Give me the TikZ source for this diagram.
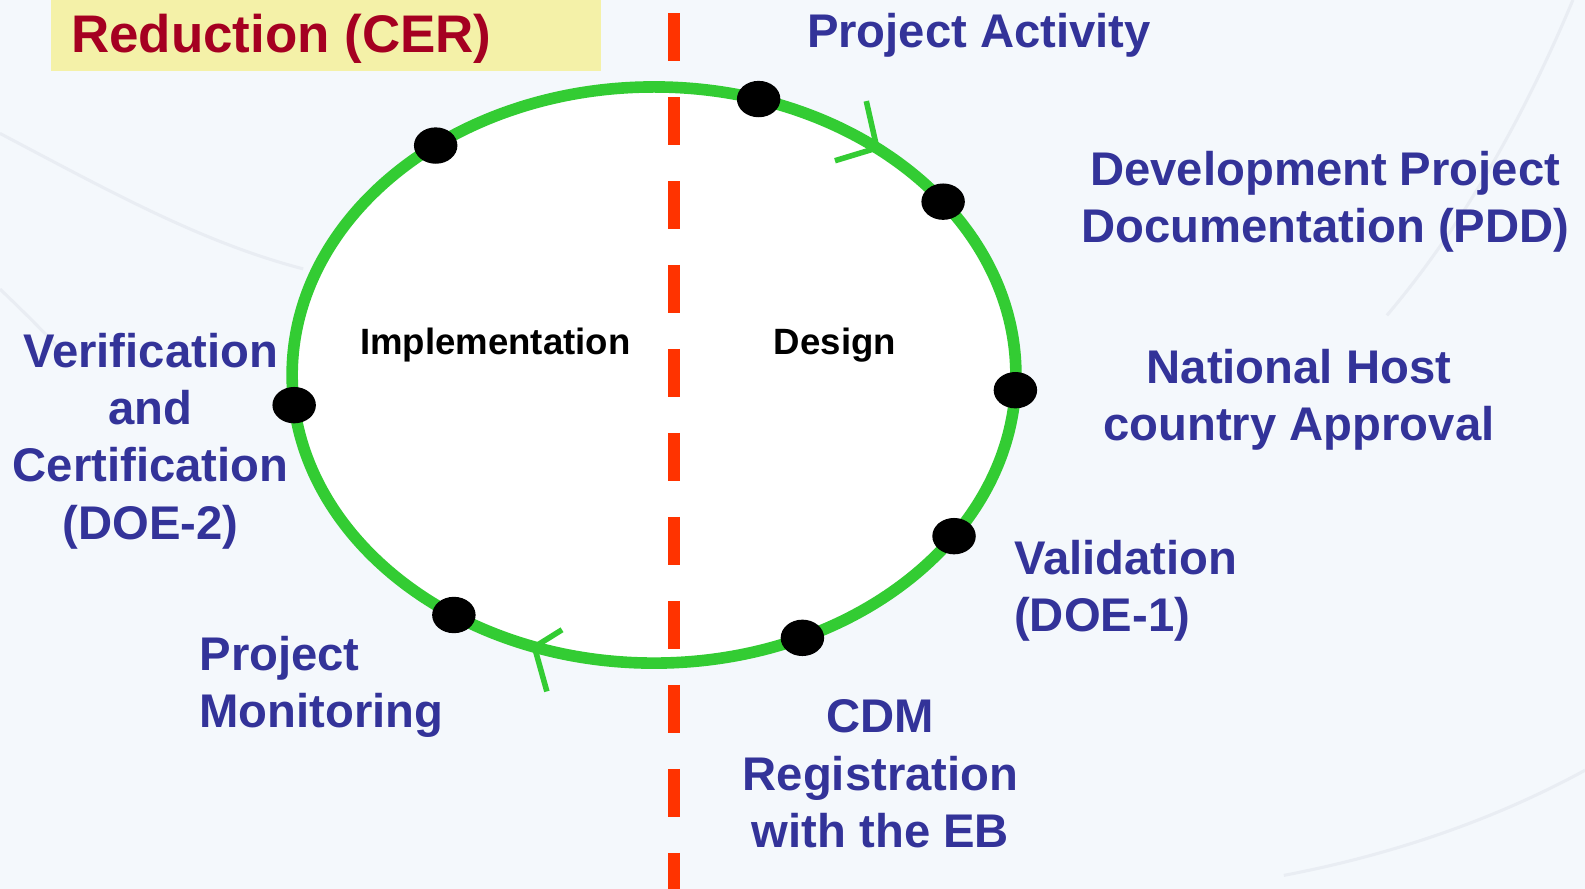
\documentclass[tikz,border=0pt]{standalone}
\usepackage{fontspec}
\setmainfont{Liberation Sans}
\usepackage{tikz}
\usetikzlibrary{shapes.geometric}

\definecolor{bgblue}{HTML}{F4F8FC}
\definecolor{ringgrey}{HTML}{E9EDF3}
\definecolor{titleyellow}{HTML}{F4F1A8}
\definecolor{titlered}{HTML}{A50021}
\definecolor{cdmblue}{HTML}{333399}
\definecolor{cdmgreen}{HTML}{33CC33}
\definecolor{cdmred}{HTML}{FF3300}

\begin{document}
\begin{tikzpicture}[x=0.02cm,y=-0.02cm,
	dot/.style={ellipse,fill=black,minimum width=0.86cm,minimum height=0.72cm,inner sep=0},
	lbl/.style={text=cdmblue,font=\fontsize{26.6}{32.3}\selectfont\bfseries,align=center,inner sep=0},
	phase/.style={font=\fontsize{20.6}{24}\selectfont\bfseries,inner sep=0}]
	\fill [bgblue] (0,0) rectangle (1568,879);
	\useasboundingbox (0,0) rectangle (1568,879);
	% faint rings of the slide background
	\draw [ringgrey, line width=0.06cm] (0,132) .. controls (110,190) and (200,240) .. (300,266);
	\draw [ringgrey, line width=0.06cm] (0,286) .. controls (20,305) and (40,325) .. (62,348);
	\draw [ringgrey, line width=0.06cm] (1556,0) .. controls (1510,110) and (1450,220) .. (1372,312);
	\draw [ringgrey, line width=0.06cm] (1568,762) .. controls (1480,810) and (1380,845) .. (1270,866);

	% title box
	\fill [titleyellow] (50,0) rectangle (595,70);
	\node[anchor=base west, text=titlered, font=\fontsize{29.8}{36}\selectfont\bfseries, inner sep=0] (title) at (70,52) {Reduction (CER)};

	% the project cycle
	\coordinate (centre) at (647,371);
	\fill [white] (centre) ellipse [x radius=358, y radius=285];
	\draw [cdmred, line width=0.24cm, dash pattern=on 0.95cm off 0.712cm] (667,12.9) -- (667,879);
	\draw [cdmgreen, line width=0.23cm] (centre) ellipse [x radius=358, y radius=285];

	\coordinate (tipA) at (867.5,146.4);
	\coordinate (tipB) at (528.7,640);
	% direction marks
	\draw [cdmgreen, line width=0.11cm] (826,159) -- (tipA) -- (857,100);
	\draw [cdmgreen, line width=0.11cm] (556,623) -- (tipB) -- (541,684);

	\node[dot] (dCER) at (431,144) {};
	\node[dot] (dActivity) at (750.5,98) {};
	\node[dot] (dPDD) at (933,199.5) {};
	\node[dot] (dApproval) at (1004.5,386) {};
	\node[dot] (dValidation) at (943.8,530.4) {};
	\node[dot] (dRegistration) at (793.8,631) {};
	\node[dot] (dMonitoring) at (449,608.4) {};
	\node[dot] (dVerification) at (291,400.8) {};

	\node[phase, anchor=base] (impl) at (490,351) {Implementation};
	\node[phase, anchor=base] (design) at (826,351) {Design};

	\node[lbl, anchor=base west] (activity) at (798,47) {Project Activity};
	\node[lbl, anchor=north] (pdd) at (1311,149) {Development Project\\Documentation (PDD)};
	\node[lbl, anchor=north] (approval) at (1285,345) {National Host\\country Approval};
	\node[lbl, anchor=north west, align=left] (validation) at (1003,534) {Validation\\(DOE-1)};
	\node[lbl, anchor=north] (registration) at (871,692) {CDM\\Registration\\with the EB};
	\node[lbl, anchor=north west, align=left] (monitoring) at (197,629) {Project\\Monitoring};
	\node[lbl, anchor=north] (verification) at (149,329) {Verification\\and\\Certification\\(DOE-2)};
\end{tikzpicture}
\end{document}
